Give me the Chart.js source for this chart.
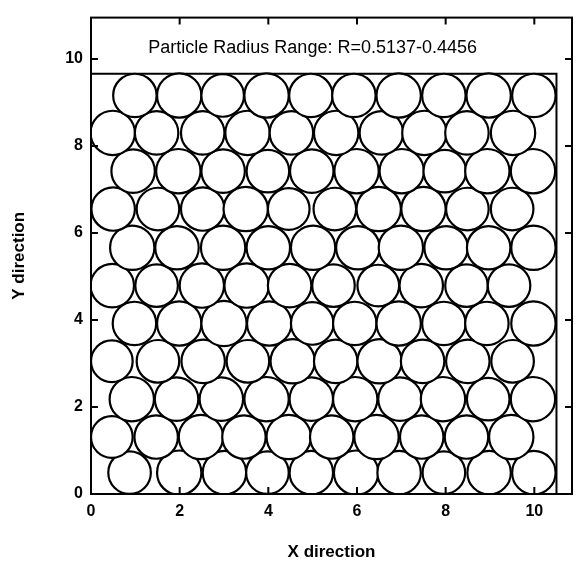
<!DOCTYPE html>
<html>
<head>
<meta charset="utf-8">
<script src="https://cdn.jsdelivr.net/npm/chart.js@4"></script>
<style>
  html, body { margin: 0; padding: 0; background: #ffffff; }
  #wrap { width: 581px; height: 566px; }
</style>
</head>
<body>
<div id="wrap"><canvas id="c" width="581" height="566"></canvas></div>
<script>
// ---- data ----
const titleText = "Particle Radius Range: R=0.5137-0.4456";
const xTicks = [0, 2, 4, 6, 8, 10];
const yTicks = [0, 2, 4, 6, 8, 10];
const boxWidth = 10.5;
const boxHeight = 9.66;

// row centre heights (bottom to top)
const rowY = [0.49, 1.31, 2.18, 3.05, 3.92, 4.79, 5.66, 6.55, 7.42, 8.30, 9.16];

// x centres per row
const row1X  = [0.87, 1.99, 3.01, 3.98, 4.97, 5.98, 6.95, 7.96, 8.98, 9.99];
const row2X  = [0.47, 1.47, 2.48, 3.45, 4.46, 5.43, 6.44, 7.46, 8.47, 9.48];
const row3X  = [0.92, 1.93, 2.94, 3.96, 4.97, 5.96, 6.97, 7.94, 8.96, 9.97];
const row4X  = [0.47, 1.51, 2.53, 3.54, 4.55, 5.52, 6.51, 7.48, 8.50, 9.51];
const row5X  = [0.98, 1.99, 3.00, 4.02, 4.99, 5.95, 6.94, 7.96, 8.93, 9.98];
const row6X  = [0.48, 1.48, 2.50, 3.51, 4.48, 5.47, 6.48, 7.45, 8.47, 9.43];
const row7X  = [0.93, 1.94, 2.98, 4.00, 5.01, 6.02, 6.99, 8.01, 8.97, 9.98];
const row8X  = [0.50, 1.51, 2.52, 3.49, 4.46, 5.50, 6.49, 7.50, 8.49, 9.50];
const row9X  = [0.95, 1.97, 2.98, 3.99, 4.98, 5.99, 7.01, 7.98, 8.94, 9.97];
const row10X = [0.49, 1.48, 2.52, 3.53, 4.52, 5.53, 6.55, 7.52, 8.48, 9.52];
const row11X = [0.99, 1.99, 2.97, 3.96, 4.96, 5.93, 6.94, 7.96, 8.97, 9.99];

// radii per row
const row1R  = [0.48, 0.50, 0.49, 0.48, 0.49, 0.50, 0.49, 0.48, 0.49, 0.49];
const row2R  = [0.47, 0.49, 0.50, 0.49, 0.50, 0.49, 0.50, 0.49, 0.49, 0.50];
const row3R  = [0.50, 0.49, 0.49, 0.50, 0.49, 0.50, 0.49, 0.50, 0.48, 0.50];
const row4R  = [0.47, 0.48, 0.49, 0.48, 0.50, 0.49, 0.50, 0.49, 0.49, 0.48];
const row5R  = [0.49, 0.50, 0.51, 0.50, 0.48, 0.49, 0.50, 0.49, 0.49, 0.50];
const row6R  = [0.49, 0.48, 0.50, 0.50, 0.49, 0.48, 0.47, 0.49, 0.48, 0.48];
const row7R  = [0.50, 0.49, 0.50, 0.49, 0.50, 0.49, 0.50, 0.49, 0.49, 0.50];
const row8R  = [0.49, 0.48, 0.49, 0.50, 0.47, 0.48, 0.50, 0.50, 0.48, 0.48];
const row9R  = [0.49, 0.50, 0.49, 0.48, 0.49, 0.50, 0.50, 0.48, 0.50, 0.50];
const row10R = [0.50, 0.49, 0.49, 0.50, 0.49, 0.50, 0.49, 0.50, 0.49, 0.50];
const row11R = [0.49, 0.50, 0.48, 0.50, 0.49, 0.49, 0.50, 0.49, 0.50, 0.49];

const rowsX = [row1X, row2X, row3X, row4X, row5X, row6X, row7X, row8X, row9X, row10X, row11X];
const rowsR = [row1R, row2R, row3R, row4R, row5R, row6R, row7R, row8R, row9R, row10R, row11R];

const particles = [];
rowsX.forEach((xs, i) => {
  xs.forEach((x, j) => particles.push({ x: x, y: rowY[i], r: rowsR[i][j] }));
});

const boxLine = [
  { x: 0, y: boxHeight },
  { x: boxWidth, y: boxHeight },
  { x: boxWidth, y: 0 }
];

// ---- plugins ----
const framePlugin = {
  id: 'frame',
  afterDraw(chart) {
    const { ctx, chartArea: a, scales } = chart;
    ctx.save();
    ctx.strokeStyle = '#000';
    ctx.lineWidth = 2;
    ctx.strokeRect(a.left, a.top, a.right - a.left, a.bottom - a.top);
    // inward tick marks
    const tl = 7;
    ctx.lineWidth = 2;
    ctx.beginPath();
    scales.x.ticks.forEach(t => {
      const px = scales.x.getPixelForValue(t.value);
      ctx.moveTo(px, a.bottom); ctx.lineTo(px, a.bottom - tl);
      ctx.moveTo(px, a.top); ctx.lineTo(px, a.top + tl);
    });
    scales.y.ticks.forEach(t => {
      const py = scales.y.getPixelForValue(t.value);
      ctx.moveTo(a.left, py); ctx.lineTo(a.left + tl, py);
      ctx.moveTo(a.right, py); ctx.lineTo(a.right - tl, py);
    });
    ctx.stroke();
    // annotation text
    ctx.fillStyle = '#000';
    ctx.font = '18px "Liberation Sans", Arial, sans-serif';
    ctx.textAlign = 'center';
    ctx.textBaseline = 'middle';
    ctx.fillText(titleText, scales.x.getPixelForValue(5.0), scales.y.getPixelForValue(10.25));
    ctx.restore();
  }
};

function pxRadius(ctx) {
  const s = ctx.chart.scales.x;
  const r = ctx.raw && ctx.raw.r ? ctx.raw.r : 0;
  return Math.abs(s.getPixelForValue(r) - s.getPixelForValue(0));
}

const tickFont = { family: '"Liberation Sans", Arial, sans-serif', size: 16, weight: 'bold' };
const titleFont = { family: '"Liberation Sans", Arial, sans-serif', size: 17, weight: 'bold' };

new Chart(document.getElementById('c'), {
  type: 'scatter',
  data: {
    datasets: [
      {
        label: 'box',
        data: boxLine,
        showLine: true,
        borderColor: '#000',
        borderWidth: 2,
        pointRadius: 0,
        fill: false,
        order: 2
      },
      {
        label: 'particles',
        data: particles,
        pointRadius: pxRadius,
        pointHoverRadius: pxRadius,
        pointBackgroundColor: '#fff',
        pointBorderColor: '#000',
        pointBorderWidth: 2.2,
        order: 1
      }
    ]
  },
  plugins: [framePlugin],
  options: {
    responsive: false,
    animation: false,
    events: [],
    layout: { padding: { left: 0, top: 11, right: 9, bottom: 0 } },
    plugins: { legend: { display: false }, tooltip: { enabled: false }, title: { display: false } },
    scales: {
      x: {
        type: 'linear',
        min: 0,
        max: 10.85,
        afterBuildTicks: s => { s.ticks = xTicks.map(v => ({ value: v })); },
        afterFit: s => { s.height = 72; },
        grid: { display: false, drawTicks: false },
        border: { display: false },
        ticks: { color: '#000', font: tickFont, padding: 8, maxRotation: 0 },
        title: { display: true, text: 'X direction', color: '#000', font: titleFont, padding: { top: 0, bottom: 3 } }
      },
      y: {
        type: 'linear',
        min: 0,
        max: 10.95,
        afterBuildTicks: s => { s.ticks = yTicks.map(v => ({ value: v })); },
        afterFit: s => { s.width = 91; },
        grid: { display: false, drawTicks: false },
        border: { display: false },
        ticks: { color: '#000', font: tickFont, padding: 8 },
        title: { display: true, text: 'Y direction', color: '#000', font: titleFont, padding: { top: 9, bottom: 0 } }
      }
    }
  }
});
</script>
</body>
</html>
